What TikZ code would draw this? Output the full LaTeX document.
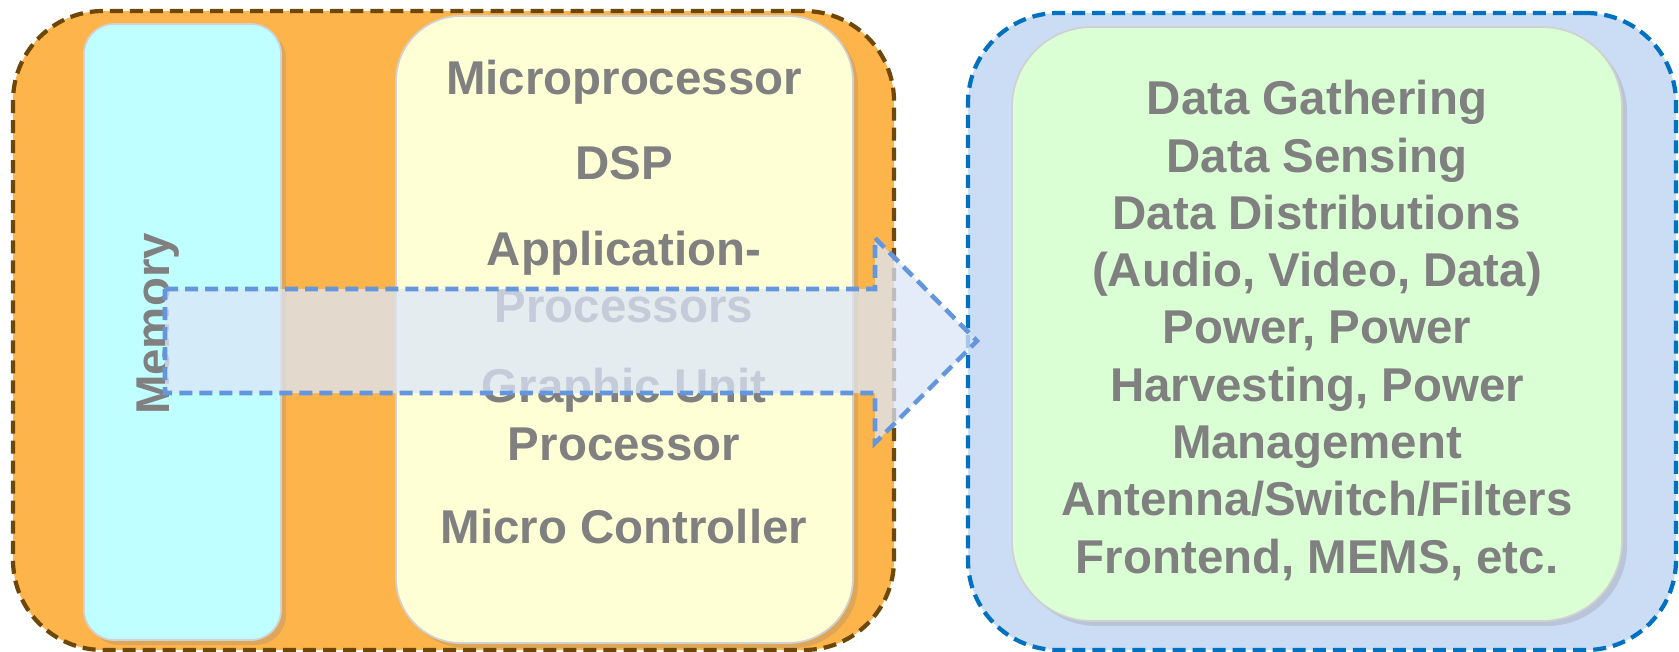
\documentclass[tikz,border=0pt]{standalone}
\usepackage{fontspec}
\setmainfont{Liberation Sans}
\usepackage{xcolor}
\definecolor{ColOrange}{RGB}{253,180,75}
\definecolor{ColBrown}{RGB}{110,70,5}
\definecolor{ColCyan}{RGB}{192,255,255}
\definecolor{ColYellow}{RGB}{255,255,214}
\definecolor{ColSky}{RGB}{203,220,245}
\definecolor{ColBlue}{RGB}{0,112,192}
\definecolor{ColGreen}{RGB}{218,255,213}
\definecolor{ColArrow}{RGB}{100,150,222}
\definecolor{ColText}{RGB}{128,128,128}
\usepackage{tikz}
\usetikzlibrary{shadows}
\tikzstyle{Outer}=[rounded corners=9mm,line width=1.2pt,
dash pattern=on 3.7pt off 2pt,inner sep=0pt]
\tikzstyle{Inner}=[inner sep=0pt,draw=black!18,line width=0.5pt,
drop shadow={shadow xshift=0.5mm,shadow yshift=-0.5mm,opacity=0.25}]
\tikzstyle{Label}=[text=ColText,font=\bfseries\fontsize{13.5}{16.3}\selectfont,
align=center,inner sep=0pt]
\tikzstyle{Flow}=[draw=ColArrow,fill=ColSky!70,fill opacity=0.75,
line width=1.3pt,dash pattern=on 3.7pt off 2pt]

\begin{document}
\begin{tikzpicture}
        \useasboundingbox(0,0)rectangle(16.79,-6.52);
        % left block
        \node[Outer,draw=ColBrown,fill=ColOrange,minimum width=8.81cm,
            minimum height=6.39cm](hw)at(4.535,-3.305){};
        \node[Inner,fill=ColCyan,rounded corners=3mm,minimum width=1.97cm,
            minimum height=6.16cm](mem)at(1.825,-3.32){};
        \node[Inner,fill=ColYellow,rounded corners=6.5mm,minimum width=4.57cm,
            minimum height=6.27cm](proc)at(6.245,-3.295){};
        % right block
        \node[Outer,draw=ColBlue,fill=ColSky,minimum width=7.08cm,
            minimum height=6.37cm](sys)at(13.22,-3.315){};
        \node[Inner,fill=ColGreen,rounded corners=8mm,minimum width=6.10cm,
            minimum height=5.94cm](func)at(13.17,-3.24){};
        % texts
        \node[Label,rotate=90](memT)at(1.58,-3.24){Memory};
        \node[Label](p1)at(6.24,-0.825){Microprocessor};
        \node[Label](p2)at(6.24,-1.628){DSP};
        \node[Label](p3)at(6.24,-2.768){Application-\\Processors};
        \node[Label](p4)at(6.24,-4.144){Graphic Unit\\Processor};
        \node[Label](p5)at(6.24,-5.268){Micro Controller};
        \node[Label](fT)at(13.17,-3.304){Data Gathering\\Data Sensing\\
            Data Distributions\\(Audio, Video, Data)\\Power, Power\\
            Harvesting, Power\\Management\\Antenna/Switch/Filters\\
            Frontend, MEMS, etc.};
        % flow arrow
        \draw[Flow](1.65,-2.89)--(8.75,-2.89)--(8.75,-2.38)--(9.77,-3.41)
            --(8.75,-4.43)--(8.75,-3.93)--(1.65,-3.93)--cycle;
    \end{tikzpicture}
\end{document}
